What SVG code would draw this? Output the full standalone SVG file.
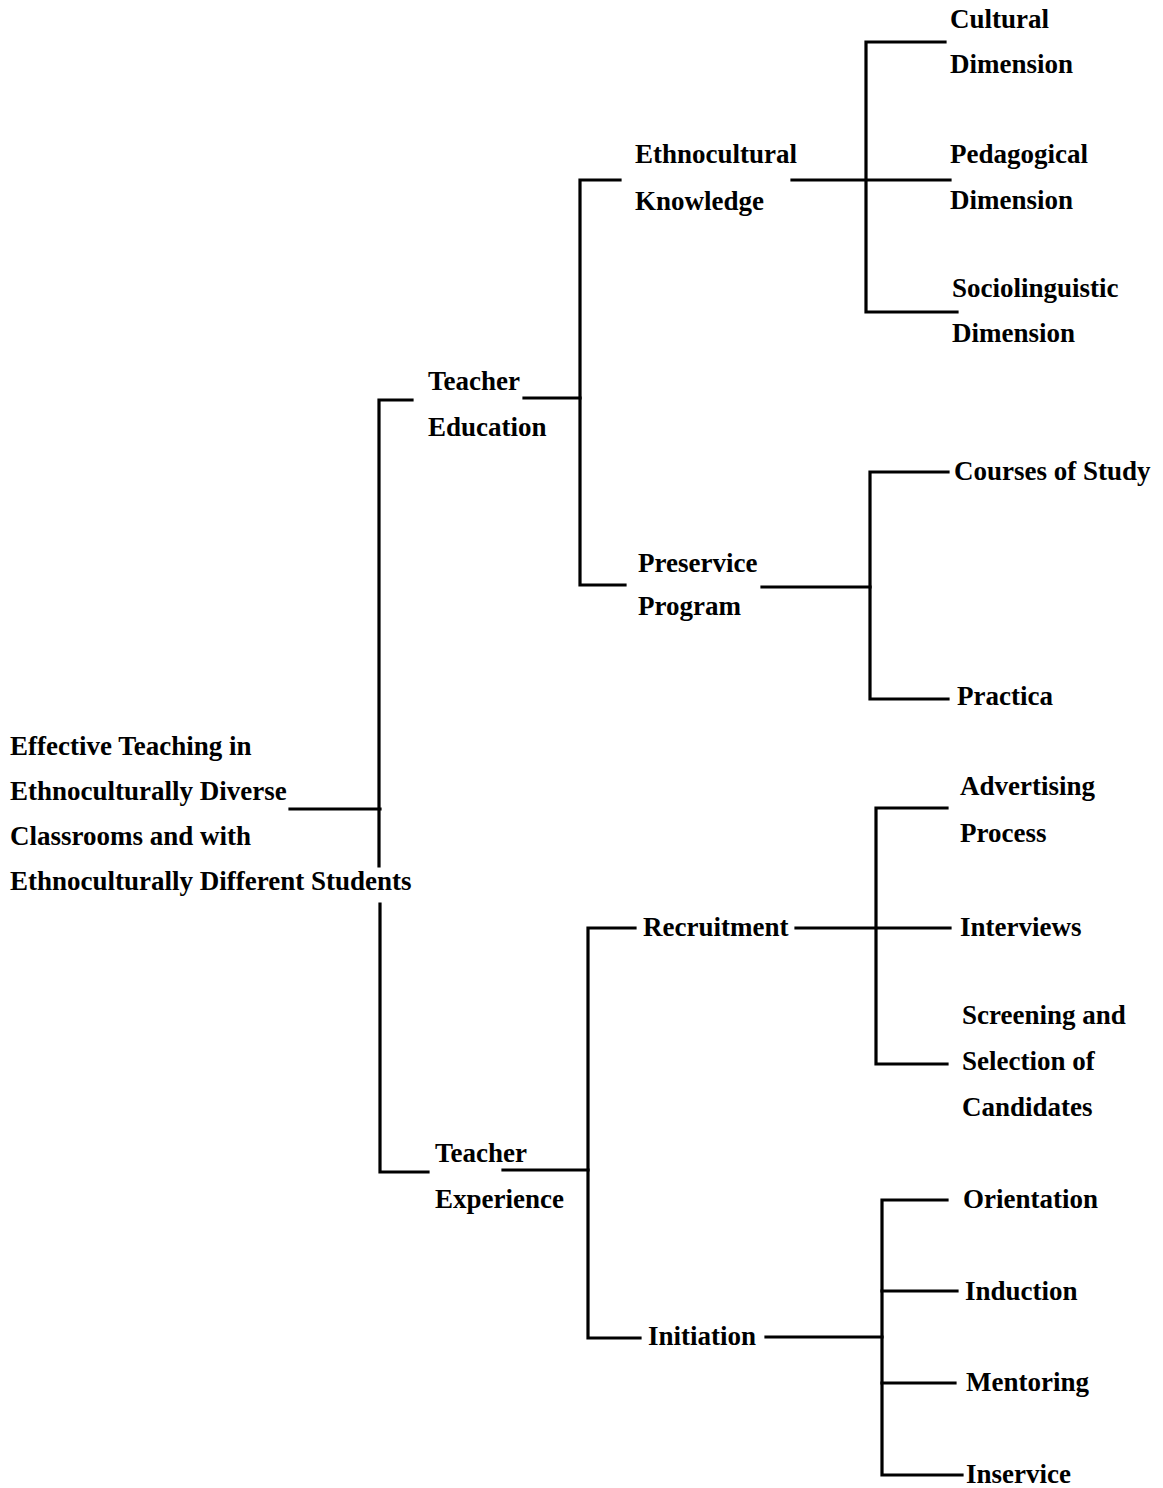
<svg xmlns="http://www.w3.org/2000/svg" width="1163" height="1488" viewBox="0 0 1163 1488">
<style>
text{font-family:"Liberation Serif","Times New Roman",serif;font-size:27px;font-weight:bold;fill:#000}
.c path{fill:none;stroke:#000;stroke-width:3.2;stroke-linecap:square;stroke-linejoin:miter}
</style>
<rect width="1163" height="1488" fill="#fff"/>
<g class="c" id="connectors">
<path d="M290 809H380"/>
<path d="M412 400H379V866M380 904V1172H428"/>
<path d="M524 398H580"/>
<path d="M620 180H580V585H625"/>
<path d="M792 180H950"/>
<path d="M945 42H866V312H957"/>
<path d="M762 587H870"/>
<path d="M948 472H870V699H948"/>
<path d="M503 1170H588"/>
<path d="M635 928H588V1338H640"/>
<path d="M796 928H950"/>
<path d="M947 808H876V1064H947"/>
<path d="M766 1337H882"/>
<path d="M947 1200H882V1475H962"/>
<path d="M882 1291H957"/>
<path d="M882 1383H955"/>
</g>
<g id="root"><text x="10" y="755">Effective Teaching in</text><text x="10" y="800">Ethnoculturally Diverse</text><text x="10" y="845">Classrooms and with</text><text x="10" y="890">Ethnoculturally Different Students</text></g>
<g id="teacher-education"><text x="428" y="390">Teacher</text><text x="428" y="436">Education</text></g>
<g id="ethnocultural-knowledge"><text x="635" y="163">Ethnocultural</text><text x="635" y="210">Knowledge</text></g>
<g id="cultural-dimension"><text x="950" y="28">Cultural</text><text x="950" y="73">Dimension</text></g>
<g id="pedagogical-dimension"><text x="950" y="163">Pedagogical</text><text x="950" y="209">Dimension</text></g>
<g id="sociolinguistic-dimension"><text x="952" y="297">Sociolinguistic</text><text x="952" y="342">Dimension</text></g>
<g id="preservice-program"><text x="638" y="572">Preservice</text><text x="638" y="615">Program</text></g>
<g id="courses-of-study"><text x="954" y="480">Courses of Study</text></g>
<g id="practica"><text x="957" y="705">Practica</text></g>
<g id="teacher-experience"><text x="435" y="1162">Teacher</text><text x="435" y="1208">Experience</text></g>
<g id="recruitment"><text x="643" y="936">Recruitment</text></g>
<g id="advertising-process"><text x="960" y="795">Advertising</text><text x="960" y="842">Process</text></g>
<g id="interviews"><text x="960" y="936">Interviews</text></g>
<g id="screening"><text x="962" y="1024">Screening and</text><text x="962" y="1070">Selection of</text><text x="962" y="1116">Candidates</text></g>
<g id="initiation"><text x="648" y="1345">Initiation</text></g>
<g id="orientation"><text x="963" y="1208">Orientation</text></g>
<g id="induction"><text x="965" y="1300">Induction</text></g>
<g id="mentoring"><text x="966" y="1391">Mentoring</text></g>
<g id="inservice"><text x="966" y="1483">Inservice</text></g>
</svg>
